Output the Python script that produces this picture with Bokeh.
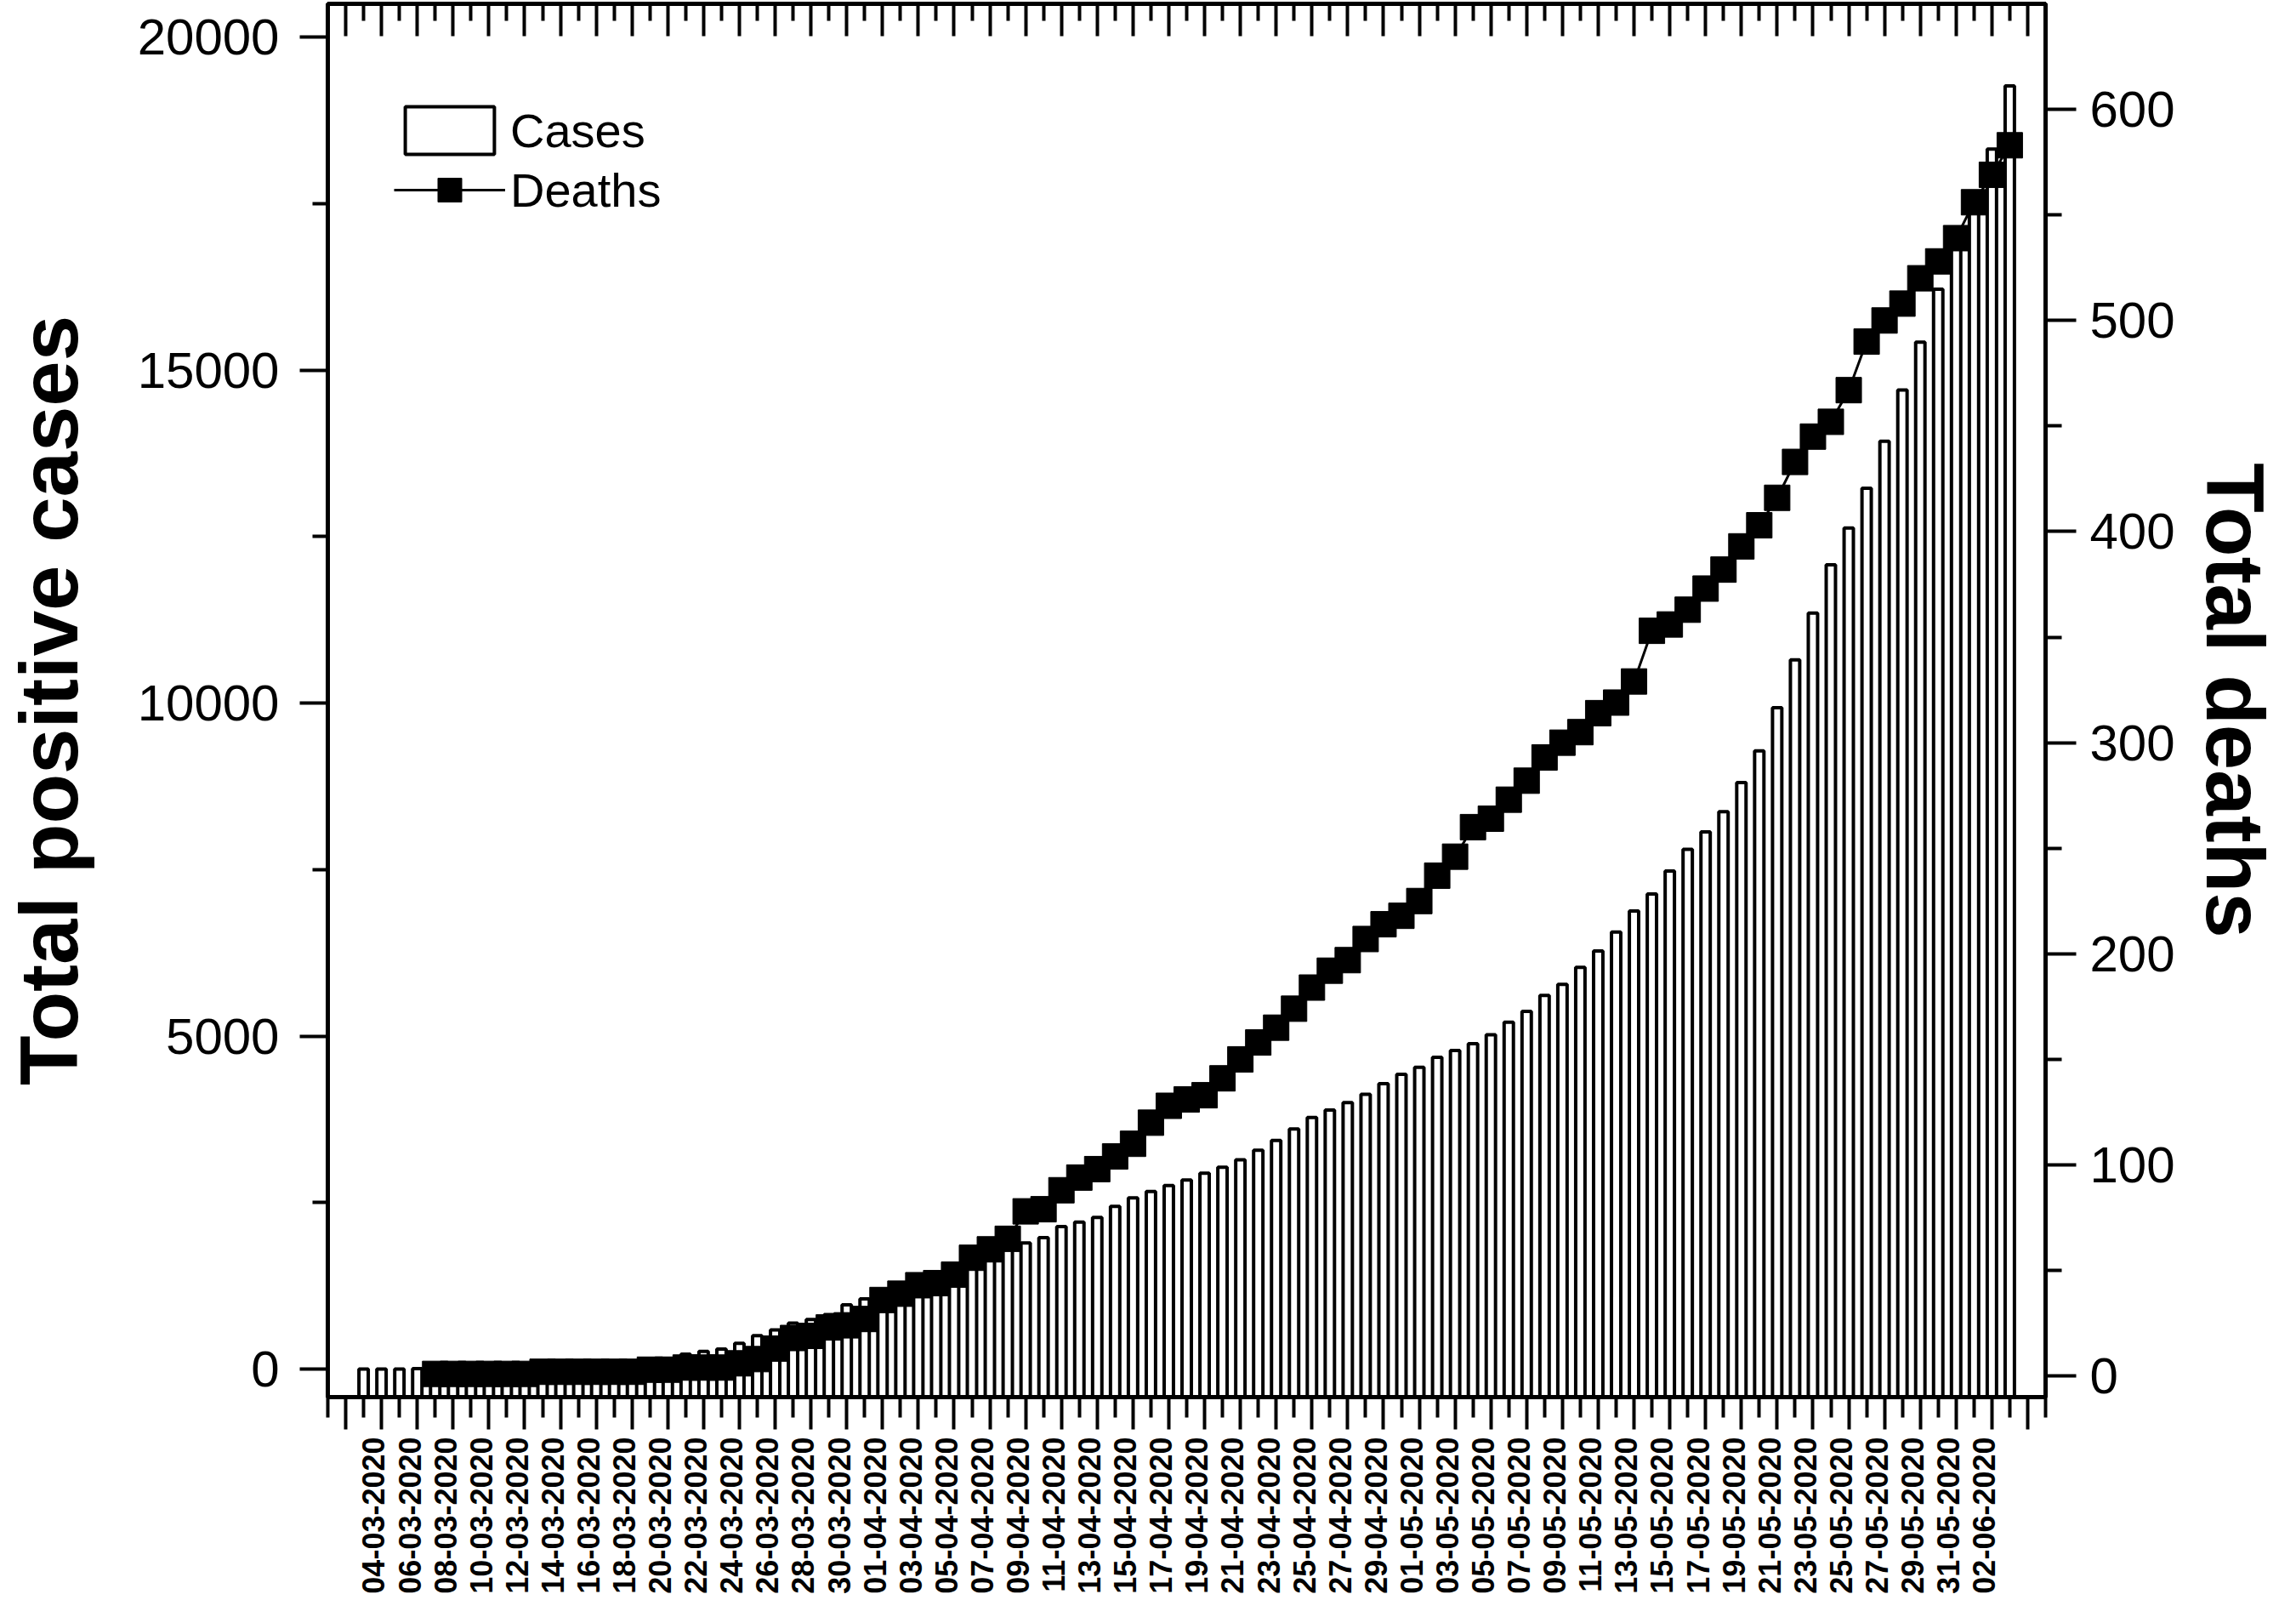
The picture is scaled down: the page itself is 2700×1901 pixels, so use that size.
import math
import pandas as pd
from bokeh.plotting import figure
from bokeh.models import (Range1d, LinearAxis, FixedTicker, Legend, LegendItem,
                          ColumnDataSource)
from bokeh.embed import file_html
from bokeh.resources import INLINE

# ---------------- data ----------------
cases_first_date = "2020-03-03"
cases = [1, 1, 2, 8, 9, 12, 17, 19, 21, 31, 34, 45, 56, 65, 79, 97, 128, 158, 225, 266,
         301, 387, 502, 589, 690, 745, 820, 966, 1054,
         1133, 1265, 1353, 1451, 1554, 1628, 1715, 1795, 1894, 1975, 2142, 2208, 2277, 2443,
         2571, 2669, 2758, 2839, 2941, 3031, 3144, 3288, 3435, 3607, 3780, 3892, 4003, 4127,
         4285, 4428,
         4532, 4681, 4783, 4887, 5020, 5208, 5371, 5611, 5776, 6034, 6278, 6563, 6879, 7134,
         7479, 7805, 8068, 8371, 8809, 9283, 9931, 10649, 11353, 12076, 12628, 13228, 13933,
         14702, 15419, 16214, 16851,
         17415, 18319, 19268]

deaths_first_date = "2020-03-07"
deaths = [1, 1, 1, 1, 1, 1, 2, 2, 2, 2, 2, 2, 3, 3, 4, 4, 4, 6, 8, 13, 18, 19, 23, 24, 27,
          36, 39, 43, 44, 48, 56, 60, 65, 78, 79, 88, 94, 98, 104, 110, 120, 128, 131, 133,
          141, 150, 158, 165, 174, 184, 192, 197, 207, 214, 218,
          225, 237, 246, 260, 264, 273, 282, 293, 300, 305, 314, 319, 329, 353, 356, 363,
          373, 382, 393, 403, 416, 433, 445, 452, 467, 490, 500, 508, 520, 528, 539,
          556, 569, 583]

date_labels = ["04-03-2020", "06-03-2020", "08-03-2020", "10-03-2020", "12-03-2020",
               "14-03-2020", "16-03-2020", "18-03-2020", "20-03-2020", "22-03-2020",
               "24-03-2020", "26-03-2020", "28-03-2020", "30-03-2020",
               "01-04-2020", "03-04-2020", "05-04-2020", "07-04-2020", "09-04-2020",
               "11-04-2020", "13-04-2020", "15-04-2020", "17-04-2020", "19-04-2020",
               "21-04-2020", "23-04-2020", "25-04-2020", "27-04-2020", "29-04-2020",
               "01-05-2020", "03-05-2020", "05-05-2020", "07-05-2020", "09-05-2020",
               "11-05-2020", "13-05-2020", "15-05-2020", "17-05-2020", "19-05-2020",
               "21-05-2020", "23-05-2020", "25-05-2020", "27-05-2020", "29-05-2020",
               "31-05-2020", "02-06-2020"]

cases_ticks = [0, 5000, 10000, 15000, 20000]
cases_minor = [2500, 7500, 12500, 17500]
deaths_ticks = [0, 100, 200, 300, 400, 500, 600]
deaths_minor = [50, 150, 250, 350, 450, 550]

# ---------------- positions (day number, 1 = 01-03-2020) ----------------
origin = pd.Timestamp("2020-03-01")
def day_num(dates):
    return [int(v) for v in ((pd.DatetimeIndex(dates) - origin).days + 1)]

x_cases = day_num(pd.date_range(cases_first_date, periods=len(cases)))
x_deaths = day_num(pd.date_range(deaths_first_date, periods=len(deaths)))
x_labels = day_num(pd.to_datetime(date_labels, format="%d-%m-%Y"))

FONT = "Liberation Sans"

p = figure(width=2684, height=1885, x_range=Range1d(1, 97), y_range=Range1d(-420, 20500),
           output_backend="svg", toolbar_location=None,
           min_border_left=382, min_border_right=276, min_border_top=4, min_border_bottom=243)
p.extra_y_ranges = {"deaths": Range1d(-10, 650)}
p.xgrid.visible = False
p.ygrid.visible = False
p.outline_line_color = "black"
p.outline_line_width = 5
p.background_fill_color = "white"
p.border_fill_color = "white"

day_major = list(range(2, 97, 2))
day_minor = list(range(1, 98, 2))
blank_labels = {t: "" for t in day_major}

# bottom tick marks (default x axis), no labels
axA = p.xaxis[0]
axA.ticker = FixedTicker(ticks=day_major, minor_ticks=day_minor)
axA.major_label_overrides = blank_labels
axA.major_tick_out = 38
axA.major_tick_in = 0
axA.minor_tick_out = 24
axA.minor_tick_in = 0
axA.major_tick_line_width = 4
axA.minor_tick_line_width = 4
axA.axis_line_width = 5
axA.major_label_standoff = 0
axA.major_label_orientation = math.pi / 2
axA.major_label_text_font_size = "10px"

# bottom date labels (slightly left of the ticks, as in the original)
label_pos = [d - 0.4375 for d in x_labels]
axB = LinearAxis(ticker=FixedTicker(ticks=label_pos),
                 major_label_overrides=dict(zip(label_pos, date_labels)),
                 major_tick_out=0, major_tick_in=0, minor_tick_out=0, minor_tick_in=0,
                 axis_line_color=None, major_tick_line_color=None, minor_tick_line_color=None,
                 major_label_orientation=math.pi / 2, major_label_standoff=9,
                 major_label_text_font=FONT, major_label_text_font_size="36px",
                 major_label_text_font_style="bold", major_label_text_color="black")
p.add_layout(axB, "below")

# top ticks (inward), no labels
axC = LinearAxis(ticker=FixedTicker(ticks=day_major, minor_ticks=day_minor),
                 major_label_overrides=blank_labels,
                 major_tick_out=0, major_tick_in=38, minor_tick_out=0, minor_tick_in=20,
                 major_tick_line_width=4, minor_tick_line_width=4, axis_line_width=5,
                 major_label_standoff=0, major_label_orientation=math.pi / 2,
                 major_label_text_font_size="10px")
p.add_layout(axC, "above")

# left axis (default y axis)
axL = p.yaxis[0]
axL.ticker = FixedTicker(ticks=cases_ticks, minor_ticks=cases_minor)
axL.major_tick_out = 33
axL.major_tick_in = 0
axL.minor_tick_out = 18
axL.minor_tick_in = 0
axL.major_tick_line_width = 4
axL.minor_tick_line_width = 4
axL.axis_line_width = 5
axL.major_label_standoff = 24
axL.major_label_text_font = FONT
axL.major_label_text_font_size = "60px"
axL.major_label_text_color = "black"
axL.axis_label = "Total positive cases"
axL.axis_label_standoff = 48
axL.axis_label_text_font = FONT
axL.axis_label_text_font_size = "96px"
axL.axis_label_text_font_style = "bold"
axL.axis_label_text_color = "black"

# right axis
axR = LinearAxis(y_range_name="deaths",
                 ticker=FixedTicker(ticks=deaths_ticks, minor_ticks=deaths_minor),
                 major_tick_out=36, major_tick_in=0, minor_tick_out=19, minor_tick_in=0,
                 major_tick_line_width=4, minor_tick_line_width=4, axis_line_width=5,
                 major_label_standoff=16, major_label_text_font=FONT,
                 major_label_text_font_size="60px", major_label_text_color="black",
                 axis_label="Total deaths", axis_label_standoff=14,
                 axis_label_orientation="vertical",
                 axis_label_text_font=FONT, axis_label_text_font_size="96px",
                 axis_label_text_font_style="bold", axis_label_text_color="black")
p.add_layout(axR, "right")

# ---------------- glyphs ----------------
src_c = ColumnDataSource(dict(x=x_cases, y=cases))
src_d = ColumnDataSource(dict(x=x_deaths, y=deaths))

bars = p.vbar(x="x", top="y", bottom=-420, width=0.52, source=src_c,
              fill_color="white", line_color="black", line_width=4)
dline = p.line(x="x", y="y", source=src_d, y_range_name="deaths",
               line_color="black", line_width=3)
dsq = p.scatter(x="x", y="y", source=src_d, y_range_name="deaths", marker="square",
                size=30, fill_color="black", line_color="black")

legend = Legend(items=[LegendItem(label="Cases", renderers=[bars]),
                       LegendItem(label="Deaths", renderers=[dline, dsq])],
                location=(78, 1384), glyph_width=131, glyph_height=70, label_standoff=6,
                spacing=0, padding=0, margin=0, border_line_color=None,
                background_fill_alpha=0, label_text_font=FONT,
                label_text_font_size="56px", label_text_color="black")
p.add_layout(legend)

open("out.html", "w").write(file_html(p, INLINE))
